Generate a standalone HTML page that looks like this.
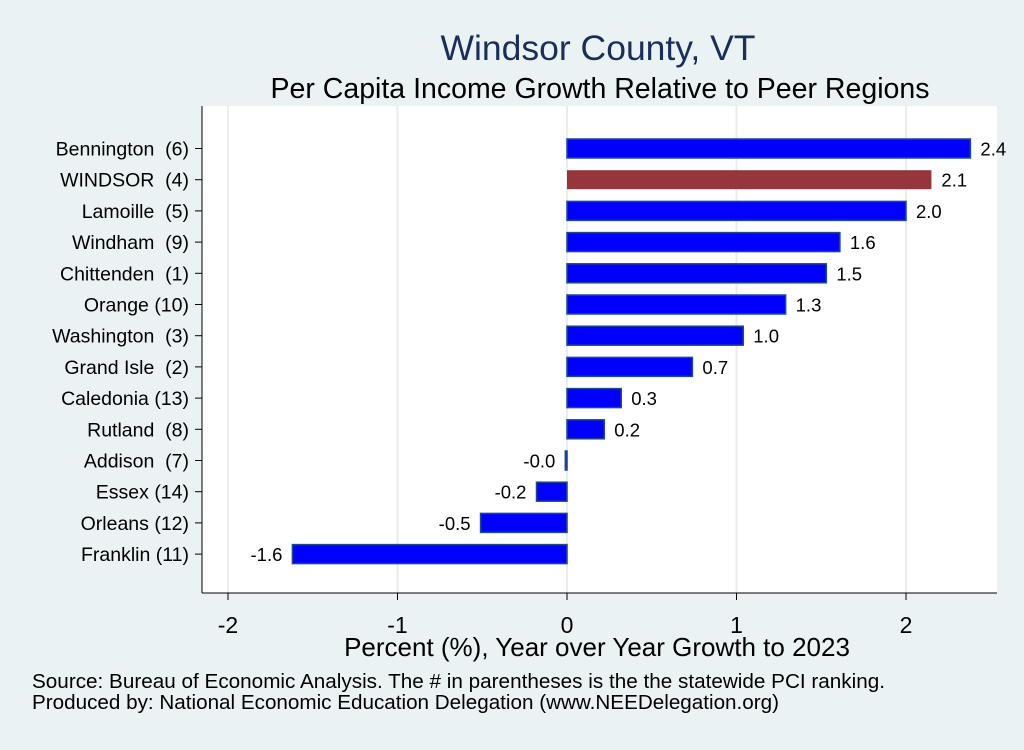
<!DOCTYPE html>
<html><head><meta charset="utf-8"><style>
body{margin:0;background:#eaf2f3;font-family:"Liberation Sans",sans-serif}
svg text{font-family:"Liberation Sans",sans-serif;white-space:pre}
</style></head><body>
<svg id="c" width="1024" height="745">
<rect x="0" y="0" width="1024" height="745" fill="#eaf2f3"/>
<text x="598" y="60" text-anchor="middle" font-size="35.5" fill="#1a2e5a">Windsor County, VT</text>
<text x="600" y="98" text-anchor="middle" font-size="28.5" fill="#000">Per Capita Income Growth Relative to Peer Regions</text>
<rect x="202" y="106" width="795" height="487" fill="#fff"/>
<g id="grid"></g><g id="bars"></g>
<line x1="202" y1="106" x2="202" y2="593" stroke="#000" stroke-width="1"/>
<line x1="202" y1="593" x2="997" y2="593" stroke="#000" stroke-width="1"/>
<g id="ticks"></g>
<text x="597" y="656" text-anchor="middle" font-size="26">Percent (%), Year over Year Growth to 2023</text>
<text x="32" y="688" font-size="20" textLength="853" lengthAdjust="spacingAndGlyphs">Source: Bureau of Economic Analysis. The # in parentheses is the the statewide PCI ranking.</text>
<text x="32" y="709" font-size="20" textLength="747" lengthAdjust="spacingAndGlyphs">Produced by: National Economic Education Delegation (www.NEEDelegation.org)</text>
</svg>
<script>
const categories=["Bennington  (6)","WINDSOR  (4)","Lamoille  (5)","Windham  (9)","Chittenden  (1)","Orange (10)","Washington  (3)","Grand Isle  (2)","Caledonia (13)","Rutland  (8)","Addison  (7)","Essex (14)","Orleans (12)","Franklin (11)"];
const values=[2.38,2.15,2.0,1.61,1.53,1.29,1.04,0.74,0.32,0.22,-0.01,-0.18,-0.51,-1.62];
const valueLabels=["2.4","2.1","2.0","1.6","1.5","1.3","1.0","0.7","0.3","0.2","-0.0","-0.2","-0.5","-1.6"];
const highlight=[false,true,false,false,false,false,false,false,false,false,false,false,false,false];
const ticks=[-2,-1,0,1,2];
const NS="http://www.w3.org/2000/svg";
const xs=v=>567+v*169.5;
const ys=i=>148.5+i*31.2;
function mk(tag,attrs,parent,txt){const e=document.createElementNS(NS,tag);for(const k in attrs)e.setAttribute(k,attrs[k]);if(txt!==undefined)e.textContent=txt;parent.appendChild(e);return e;}
const grid=document.getElementById('grid'),bars=document.getElementById('bars'),tk=document.getElementById('ticks');
ticks.forEach(t=>{
  const g=mk('line',{x1:xs(t),x2:xs(t),y1:106,y2:593,stroke:'#e8eeee','stroke-width':2},grid);
  
  
  const l=mk('line',{x1:xs(t),x2:xs(t),y1:593,y2:600,stroke:'#000'},tk);
  
  
  const tx=mk('text',{x:xs(t),y:633,'text-anchor':'middle','font-size':23},tk,String(t));
  
  
});
categories.forEach((c,i)=>{
  const y=ys(i),v=values[i];
  const t=mk('line',{x1:195,x2:202,y1:y,y2:y,stroke:'#000'},tk);
  
  
  const lb=mk('text',{x:189,y:y+7,'text-anchor':'end','font-size':19.5},tk,c);
  
  
  const x0=Math.min(xs(0),xs(v)),w=Math.max(Math.abs(xs(v)-xs(0)),1);
  const r=mk('rect',{x:x0,y:y-9.5,width:w,height:19,fill:highlight[i]?'#95363d':'#0000ff',stroke:highlight[i]?'none':'#1f4a8a','stroke-width':1.5},bars);
  
  
  const vl=mk('text',{x:v>=0?xs(v)+10:xs(v)-10,y:y+7,'text-anchor':v>=0?'start':'end','font-size':18.5},bars,valueLabels[i]);
  
  
});
</script>
</body></html>
